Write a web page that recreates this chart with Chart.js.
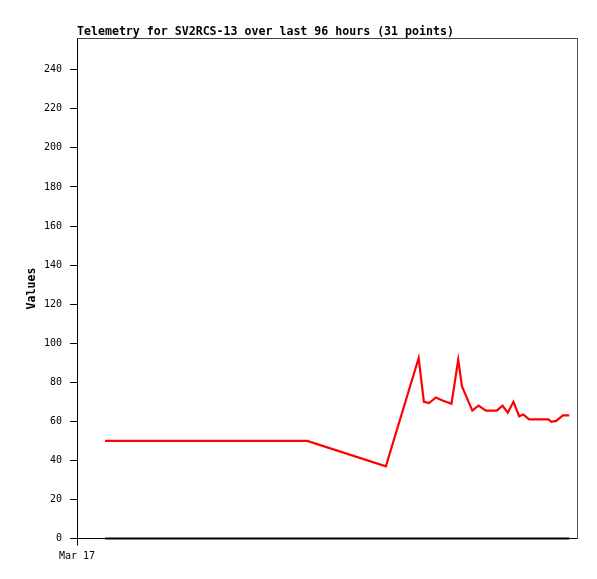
<!DOCTYPE html>
<html>
<head>
<meta charset="utf-8">
<script src="https://cdn.jsdelivr.net/npm/chart.js@4/dist/chart.umd.min.js"></script>
<style>
  html, body { margin: 0; padding: 0; background: #fff; }
  canvas { display: block; }
</style>
</head>
<body>
<canvas id="c" width="597" height="579"></canvas>
<script>
// Hours since Mar 17 00:00 for each sample
const hours = [5.4, 44.2, 59.3, 65.6, 66.6, 67.6, 68.9, 70.3, 71.9, 73.2, 73.9, 75.9, 77.1, 78.5, 79.5,
               80.6, 81.7, 82.7, 83.8, 84.9, 85.7, 86.8, 87.9, 89.1, 90.5, 91.1, 92.0, 93.3, 94.5];
const values = [50, 50, 37, 92.4, 70, 69.3, 72.2, 70.5, 69, 91.6, 78, 65.5, 68, 65.5, 65.5,
                65.5, 68, 64.4, 70, 62.6, 63.5, 61, 61, 61, 61, 59.7, 60.2, 63, 63];
const zeroLine = [0, 0, 0, 0, 0, 0, 0, 0, 0, 0, 0, 0, 0, 0, 0,
                  0, 0, 0, 0, 0, 0, 0, 0, 0, 0, 0, 0, 0, 0];
const xTickValues = [0];
const xTickLabels = ["Mar 17"];
const yTicks = [0, 20, 40, 60, 80, 100, 120, 140, 160, 180, 200, 220, 240];
const titleText = "Telemetry for SV2RCS-13 over last 96 hours (31 points)";
const yTitle = "Values";

const mono = "'DejaVu Sans Mono', 'Liberation Mono', monospace";

new Chart(document.getElementById('c'), {
  type: 'line',
  data: {
    datasets: [
      {
        data: hours.map((h, i) => ({ x: h, y: values[i] })),
        borderColor: '#ff0000',
        borderWidth: 2.2,
        pointRadius: 0,
        tension: 0,
        fill: false,
        clip: 6
      },
      {
        data: hours.map((h, i) => ({ x: h, y: zeroLine[i] })),
        borderColor: '#000000',
        borderWidth: 2.2,
        pointRadius: 0,
        tension: 0,
        fill: false,
        clip: 6
      }
    ]
  },
  options: {
    responsive: false,
    animation: false,
    devicePixelRatio: 1,
    layout: { padding: 0 },
    plugins: {
      legend: { display: false },
      tooltip: { enabled: false },
      title: {
        display: true,
        text: titleText,
        align: 'start',
        fullSize: false,
        color: '#000',
        font: { family: mono, size: 11.6, weight: 'bold', lineHeight: 1.2 },
        padding: { top: 24.6, bottom: 0 }
      }
    },
    scales: {
      x: {
        type: 'linear',
        position: 'bottom',
        min: 0,
        max: 96,
        afterBuildTicks: (s) => { s.ticks = xTickValues.map(v => ({ value: v })); },
        afterFit: (s) => { s.height = 40.5; },
        ticks: {
          color: '#000',
          font: { family: mono, size: 10 },
          padding: 5,
          maxRotation: 0,
          autoSkip: false,
          callback: (v) => { const i = xTickValues.indexOf(v); return i >= 0 ? xTickLabels[i] : ''; }
        },
        grid: { display: true, drawOnChartArea: false, drawTicks: true, tickLength: 7, color: '#000', lineWidth: 1 },
        border: { display: true, color: '#000', width: 1 }
      },
      y: {
        type: 'linear',
        position: 'left',
        min: 0,
        max: 256,
        afterBuildTicks: (s) => { s.ticks = yTicks.map(v => ({ value: v })); },
        afterFit: (s) => { s.width = 77; },
        ticks: {
          color: '#000',
          font: { family: mono, size: 10 },
          padding: 8,
          autoSkip: false
        },
        title: {
          display: true,
          text: yTitle,
          color: '#000',
          font: { family: mono, size: 11.6, weight: 'bold', lineHeight: 1.2 },
          padding: { top: 25.5, bottom: 0 }
        },
        grid: { display: true, drawOnChartArea: false, drawTicks: true, tickLength: 7, color: '#000', lineWidth: 1 },
        border: { display: true, color: '#000', width: 1 }
      },
      xTop: {
        type: 'linear',
        position: 'top',
        min: 0,
        max: 1,
        afterFit: (s) => { s.height = 0; },
        ticks: { display: false },
        grid: { display: false, drawTicks: false },
        border: { display: true, color: '#444', width: 1 }
      },
      yRight: {
        type: 'linear',
        position: 'right',
        min: 0,
        max: 1,
        afterFit: (s) => { s.width = 20; },
        ticks: { display: false },
        grid: { display: false, drawTicks: false },
        border: { display: true, color: '#555', width: 1 }
      }
    }
  }
});
</script>
</body>
</html>
